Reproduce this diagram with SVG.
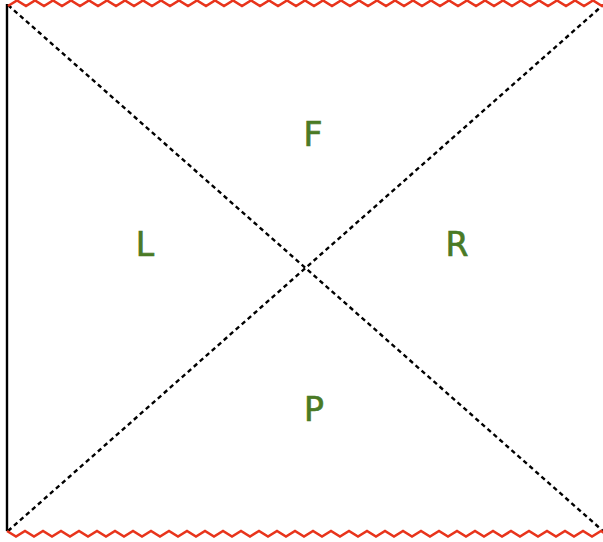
<svg xmlns="http://www.w3.org/2000/svg" width="603" height="542" viewBox="0 0 603 542">
<style>
.zig{fill:none;stroke:#e8341c;stroke-width:2.6;stroke-linejoin:miter}
.diag{fill:none;stroke:#000;stroke-width:2.4;stroke-dasharray:4.5 3.5}
.wall{fill:none;stroke:#000;stroke-width:2.4}
.lbl{font-family:"DejaVu Sans",sans-serif;font-size:33px;fill:#4a7a25;stroke:#4a7a25;stroke-width:0.7;text-anchor:middle}
</style>
<rect width="603" height="542" fill="#fff"/>
<g id="connectors">
<path class="diag" d="M8 5 L603 531"/>
<path class="diag" d="M8 531 L603 5"/>
<path class="wall" d="M7 4 L7 531"/>
<path class="zig" d="M8 6 l9 -5.5 l9 5.5 l9 -5.5 l9 5.5 l9 -5.5 l9 5.5 l9 -5.5 l9 5.5 l9 -5.5 l9 5.5 l9 -5.5 l9 5.5 l9 -5.5 l9 5.5 l9 -5.5 l9 5.5 l9 -5.5 l9 5.5 l9 -5.5 l9 5.5 l9 -5.5 l9 5.5 l9 -5.5 l9 5.5 l9 -5.5 l9 5.5 l9 -5.5 l9 5.5 l9 -5.5 l9 5.5 l9 -5.5 l9 5.5 l9 -5.5 l9 5.5 l9 -5.5 l9 5.5 l9 -5.5 l9 5.5 l9 -5.5 l9 5.5 l9 -5.5 l9 5.5 l9 -5.5 l9 5.5 l9 -5.5 l9 5.5 l9 -5.5 l9 5.5 l9 -5.5 l9 5.5 l9 -5.5 l9 5.5 l9 -5.5 l9 5.5 l9 -5.5 l9 5.5 l9 -5.5 l9 5.5 l9 -5.5 l9 5.5 l9 -5.5 l9 5.5 l9 -5.5 l9 5.5 l9 -5.5 l9 5.5 l9 -5.5 l9 5.5 l9 -5.5 l9 5.5 l9 -5.5 l9 5.5"/>
<path class="zig" d="M7 531 l9 5.5 l9 -5.5 l9 5.5 l9 -5.5 l9 5.5 l9 -5.5 l9 5.5 l9 -5.5 l9 5.5 l9 -5.5 l9 5.5 l9 -5.5 l9 5.5 l9 -5.5 l9 5.5 l9 -5.5 l9 5.5 l9 -5.5 l9 5.5 l9 -5.5 l9 5.5 l9 -5.5 l9 5.5 l9 -5.5 l9 5.5 l9 -5.5 l9 5.5 l9 -5.5 l9 5.5 l9 -5.5 l9 5.5 l9 -5.5 l9 5.5 l9 -5.5 l9 5.5 l9 -5.5 l9 5.5 l9 -5.5 l9 5.5 l9 -5.5 l9 5.5 l9 -5.5 l9 5.5 l9 -5.5 l9 5.5 l9 -5.5 l9 5.5 l9 -5.5 l9 5.5 l9 -5.5 l9 5.5 l9 -5.5 l9 5.5 l9 -5.5 l9 5.5 l9 -5.5 l9 5.5 l9 -5.5 l9 5.5 l9 -5.5 l9 5.5 l9 -5.5 l9 5.5 l9 -5.5 l9 5.5 l9 -5.5 l9 5.5 l9 -5.5 l9 5.5 l9 -5.5 l9 5.5 l9 -5.5 l9 5.5 l9 -5.5"/>
</g>
<g id="F"><text class="lbl" x="313" y="146">F</text></g>
<g id="L"><text class="lbl" x="145" y="256">L</text></g>
<g id="R"><text class="lbl" x="457" y="256">R</text></g>
<g id="P"><text class="lbl" x="314" y="421">P</text></g>
</svg>
